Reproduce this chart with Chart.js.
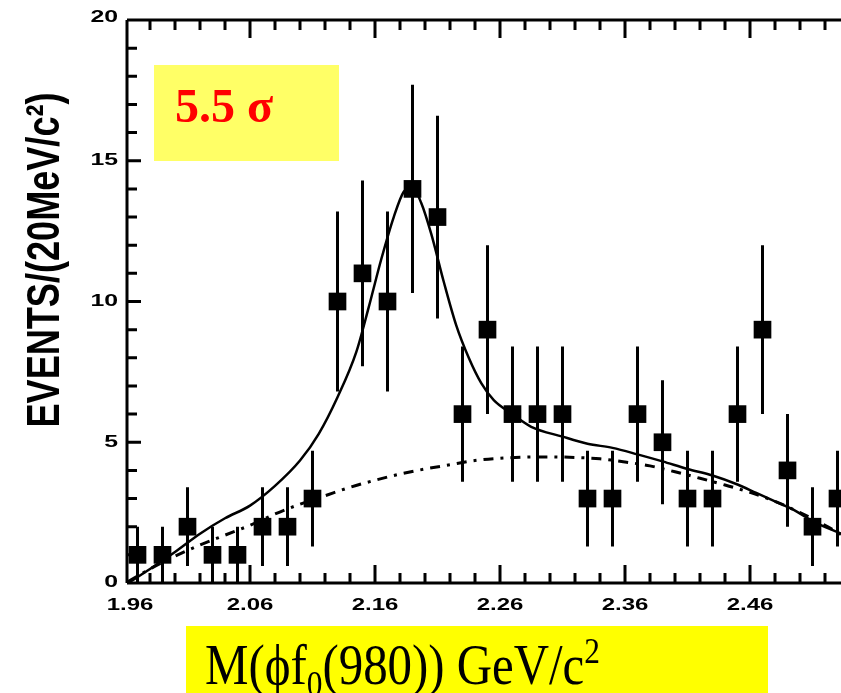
<!DOCTYPE html>
<html>
<head>
<meta charset="utf-8">
<script src="https://cdn.jsdelivr.net/npm/chart.js@4/dist/chart.umd.min.js"></script>
<style>
  html, body { margin: 0; padding: 0; background: #fff; }
  canvas { display: block; }
</style>
</head>
<body>
<canvas id="mass" width="841" height="693"></canvas>
<script>
// M(phi f0(980)) spectrum, 20 MeV bins
var binCenters = [1.97, 1.99, 2.01, 2.03, 2.05, 2.07, 2.09, 2.11, 2.13, 2.15,
                  2.17, 2.19, 2.21, 2.23, 2.25, 2.27, 2.29, 2.31, 2.33, 2.35,
                  2.37, 2.39, 2.41, 2.43, 2.45, 2.47, 2.49, 2.51, 2.53];
var events     = [1, 1, 2, 1, 1, 2, 2, 3, 10, 11,
                  10, 14, 13, 6, 9, 6, 6, 6, 3, 3,
                  6, 5, 3, 3, 6, 9, 4, 2, 3];
var eventErr   = [1, 1, 1.4, 1, 1, 1.4, 1.4, 1.7, 3.2, 3.3,
                  3.2, 3.7, 3.6, 2.4, 3, 2.4, 2.4, 2.4, 1.7, 1.7,
                  2.4, 2.2, 1.7, 1.7, 2.4, 3, 2, 1.4, 1.7];

// fit: signal + background (solid)
var fitX = [1.9625, 1.98, 2.00, 2.02, 2.04, 2.06, 2.08, 2.10, 2.115, 2.13,
            2.145, 2.155, 2.165, 2.175, 2.183, 2.19, 2.197, 2.205, 2.215, 2.225,
            2.235, 2.245, 2.255, 2.27, 2.285, 2.31, 2.33, 2.35, 2.37, 2.39,
            2.41, 2.43, 2.45, 2.465, 2.48, 2.495, 2.51, 2.5328];
var fitY = [0.0, 0.5, 1.1, 1.75, 2.3, 2.75, 3.45, 4.35, 5.3, 6.6,
            8.2, 9.8, 11.5, 13.0, 13.9, 14.05, 13.5, 12.4, 10.7, 9.15,
            8.0, 7.1, 6.5, 6.0, 5.55, 5.2, 4.95, 4.8, 4.57, 4.32,
            4.05, 3.82, 3.5, 3.2, 2.9, 2.6, 2.2, 1.75];

// background only (dotted)
var bkgX = [1.9625, 1.98, 2.00, 2.02, 2.04, 2.06, 2.08, 2.10, 2.12, 2.14,
            2.16, 2.18, 2.20, 2.22, 2.24, 2.26, 2.28, 2.30, 2.32, 2.34,
            2.36, 2.38, 2.40, 2.42, 2.44, 2.46, 2.48, 2.50, 2.52, 2.5328];
var bkgY = [0.05, 0.5, 0.95, 1.35, 1.7, 2.05, 2.45, 2.8, 3.1, 3.4,
            3.65, 3.87, 4.05, 4.2, 4.35, 4.43, 4.47, 4.48, 4.46, 4.41,
            4.3, 4.16, 3.95, 3.72, 3.48, 3.22, 2.9, 2.5, 2.05, 1.72];

var xTicks = [1.96, 2.06, 2.16, 2.26, 2.36, 2.46];
var xTickLabels = ['1.96', '2.06', '2.16', '2.26', '2.36', '2.46'];
var yTicks = [0, 5, 10, 15, 20];
var yTickLabels = ['0', '5', '10', '15', '20'];

var xMin = 1.9616, xMax = 2.5328;

function pairs(xs, ys) {
  return xs.map(function (x, i) { return { x: x, y: ys[i] }; });
}

function wideText(ctx, text, x, y, sx, align) {
  ctx.save();
  ctx.translate(x, y);
  ctx.scale(sx, 1);
  ctx.textAlign = align;
  ctx.fillText(text, 0, 0);
  ctx.restore();
}

// vertical error bars behind the markers
var errorBars = {
  id: 'errorBars',
  beforeDatasetsDraw: function (chart) {
    var ctx = chart.ctx, xs = chart.scales.x, ys = chart.scales.y;
    ctx.save();
    ctx.strokeStyle = '#000';
    ctx.lineWidth = 3;
    ctx.beginPath();
    binCenters.forEach(function (x, i) {
      var px = xs.getPixelForValue(x);
      var lo = Math.max(0, events[i] - eventErr[i]);
      var hi = Math.min(20, events[i] + eventErr[i]);
      ctx.moveTo(px, ys.getPixelForValue(lo));
      ctx.lineTo(px, ys.getPixelForValue(hi));
    });
    ctx.stroke();
    ctx.restore();
  }
};

// frame with inward ticks, labels and the text boxes
var frame = {
  id: 'frame',
  afterDraw: function (chart) {
    var ctx = chart.ctx, a = chart.chartArea;
    var xs = chart.scales.x, ys = chart.scales.y;
    ctx.save();
    ctx.strokeStyle = '#000';
    ctx.fillStyle = '#000';
    ctx.lineWidth = 3;
    ctx.beginPath();
    ctx.moveTo(a.left, a.top); ctx.lineTo(a.right, a.top);
    ctx.moveTo(a.left, a.top); ctx.lineTo(a.left, a.bottom);
    ctx.moveTo(a.left, a.bottom); ctx.lineTo(a.right, a.bottom);

    // x ticks, every 0.02, long ones every 0.1
    for (var k = 0; k < 30; k++) {
      var v = 1.96 + k * 0.02;
      var px = xs.getPixelForValue(v);
      if (px < a.left + 2 || px > a.right) continue;
      var len = (k % 5 === 0) ? 18 : 10;
      ctx.moveTo(px, a.bottom); ctx.lineTo(px, a.bottom - len);
      ctx.moveTo(px, a.top); ctx.lineTo(px, a.top + len);
    }
    // y ticks, every 1, long ones every 5
    for (var j = 1; j < 20; j++) {
      var py = ys.getPixelForValue(j);
      var ylen = (j % 5 === 0) ? 14 : 10;
      ctx.moveTo(a.left, py); ctx.lineTo(a.left + ylen, py);
    }
    ctx.stroke();

    // tick labels
    ctx.font = 'bold 16px "Liberation Sans", Arial, sans-serif';
    ctx.textBaseline = 'middle';
    xTicks.forEach(function (v, i) {
      var px = Math.max(xs.getPixelForValue(v), a.left + 3);
      wideText(ctx, xTickLabels[i], px, 606, 1.5, 'center');
    });
    yTicks.forEach(function (v, i) {
      var py = ys.getPixelForValue(v);
      if (v === 20) py -= 2;
      ctx.save();
      ctx.translate(118, py);
      ctx.scale(1.55, 1);
      ctx.textAlign = 'right';
      ctx.fillText(yTickLabels[i], 0, 0);
      ctx.restore();
    });

    // y axis title
    ctx.save();
    ctx.font = 'bold 46px "Liberation Sans", Arial, sans-serif';
    ctx.textBaseline = 'alphabetic';
    ctx.textAlign = 'center';
    var yTitle = 'EVENTS/(20MeV/c\u00B2)';
    var w = ctx.measureText(yTitle).width;
    ctx.translate(59, 260);
    ctx.rotate(-Math.PI / 2);
    ctx.scale(335 / w, 1);
    ctx.fillText(yTitle, 0, 0);
    ctx.restore();

    // significance box
    ctx.fillStyle = '#FFFF66';
    ctx.fillRect(154, 65, 185, 96);
    ctx.fillStyle = '#FF0000';
    ctx.font = 'bold 48px "Liberation Serif", "Times New Roman", serif';
    ctx.textAlign = 'left';
    ctx.textBaseline = 'alphabetic';
    ctx.fillText('5.5 \u03C3', 175, 122);

    // x axis title box
    ctx.fillStyle = '#FFFF00';
    ctx.fillRect(186, 626, 582, 67);
    ctx.fillStyle = '#000';
    var big = '56px "Liberation Serif", "Times New Roman", serif';
    var small = '36px "Liberation Serif", "Times New Roman", serif';
    var parts = [
      { t: 'M(\u03D5f', f: big, dy: 0 },
      { t: '0', f: small, dy: 12 },
      { t: '(980)) GeV/c', f: big, dy: 0 },
      { t: '2', f: small, dy: -21 }
    ];
    var total = 0;
    parts.forEach(function (p) { ctx.font = p.f; p.w = ctx.measureText(p.t).width; total += p.w; });
    var sx = 395 / total;
    ctx.save();
    ctx.translate(205, 684);
    ctx.scale(sx, 1);
    var cx = 0;
    parts.forEach(function (p) {
      ctx.font = p.f;
      ctx.fillText(p.t, cx, p.dy);
      cx += p.w;
    });
    ctx.restore();

    ctx.restore();
  }
};

var ctx = document.getElementById('mass');
var chart = new Chart(ctx, {
  type: 'scatter',
  data: {
    datasets: [{
      label: 'data',
      data: pairs(binCenters, events),
      pointStyle: 'rect',
      pointRadius: 12.5,
      pointBorderWidth: 0,
      backgroundColor: '#000',
      borderColor: '#000',
      showLine: false
    }, {
      label: 'fit',
      data: pairs(fitX, fitY),
      showLine: true,
      pointRadius: 0,
      borderColor: '#000',
      borderWidth: 2.5,
      cubicInterpolationMode: 'monotone'
    }, {
      label: 'background',
      data: pairs(bkgX, bkgY),
      showLine: true,
      pointRadius: 0,
      borderColor: '#000',
      borderWidth: 3,
      borderDash: [10, 7, 3, 7],
      cubicInterpolationMode: 'monotone'
    }]
  },
  options: {
    responsive: false,
    animation: false,
    devicePixelRatio: 1,
    layout: { autoPadding: false, padding: { left: 127, top: 20, right: 0, bottom: 110 } },
    plugins: { legend: { display: false }, tooltip: { enabled: false } },
    scales: {
      x: { type: 'linear', display: false, min: xMin, max: xMax },
      y: { display: false, min: 0, max: 20 }
    }
  },
  plugins: [errorBars, frame]
});
</script>
</body>
</html>
